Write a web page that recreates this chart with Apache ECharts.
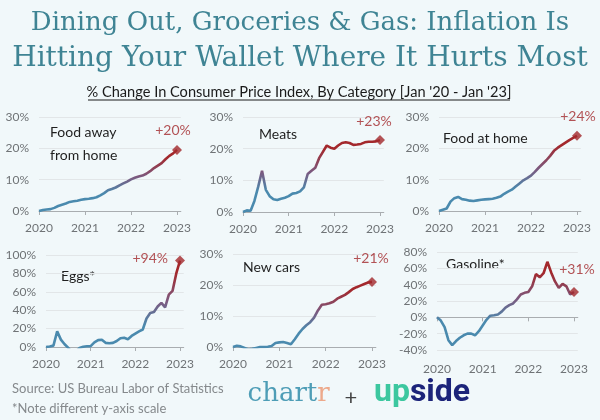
<!DOCTYPE html>
<html><head><meta charset="utf-8">
<script src="https://cdn.jsdelivr.net/npm/echarts@6/dist/echarts.min.js"></script>
<style>html,body{margin:0;padding:0;background:#f1f8fa}#c{width:600px;height:420px}</style>
</head><body><div id="c"></div>
<script>
// ---- DATA (monthly % change vs Jan 2020, Jan 2020 .. Jan 2023) ----
const yearLabels = ['2020', '2021', '2022', '2023'];
const panelNames = ['Food away\nfrom home', 'Meats', 'Food at home', 'Eggs*', 'New cars', 'Gasoline*'];
const endLabels = ['+20%', '+23%', '+24%', '+94%', '+21%', '+31%'];
const foodAway = [0,0.3,0.5,0.6,1.0,1.6,2.0,2.4,2.9,3.1,3.3,3.6,3.8,3.9,4.1,4.4,5.0,5.7,6.6,7.0,7.5,8.2,8.8,9.4,10.1,10.6,11.0,11.3,11.9,12.7,13.7,14.5,15.3,16.5,17.6,18.4,19.5];
const meats = [0,0.5,0.4,3.5,8,13,7,5,4,3.8,4.2,4.5,5,5.8,6,6.5,7.8,12,13,14,17,19,21,20.3,20,21,21.8,22,21.8,21.2,21.3,21.5,22,22.2,22.2,22.3,22.7];
const foodHome = [0,0.4,0.8,3.0,4.1,4.5,3.8,3.6,3.3,3.2,3.4,3.6,3.7,3.8,3.9,4.2,4.6,5.5,6.2,6.8,7.8,8.8,9.8,10.5,11.3,12.5,13.8,15,16.2,17.6,19.2,20.2,21,21.8,22.6,23.3,24];
const eggs = [0,0.5,1.5,17,8,3,-1,-6,-5,-1,0.3,0.8,1,5,7.5,7.8,4.5,4,4.5,6.5,9.5,10,8.5,12,14.5,17,19,31,37,38,44,48,43,57,61,80,94];
const newCars = [0,0.4,0.2,-0.3,-0.8,-0.6,-0.3,0,0,0.1,0.3,1.3,1.5,1.6,1.3,0.9,2.5,4.3,5.8,7,8,9.5,11.8,13.6,13.8,14.1,14.6,15.6,16.2,16.8,17.7,18.7,19.3,19.8,20.3,20.8,21];
const gasoline = [0,-4,-12,-28,-34,-29,-25,-22,-20,-20,-22,-17,-10,-3,2,2.5,3.5,7,12,15,17,22,28,30,31,38,53,49,54,68,55,44,36,41,38,28,31];
const seriesData = [foodAway, meats, foodHome, eggs, newCars, gasoline];
const yScales = [[0,30,10],[0,30,10],[0,30,10],[0,100,20],[0,30,10],[-40,80,20]];

// month categories (one spare month after Jan 2023 for right padding)
const months = [];
for (let y = 2020; y <= 2023; y++) for (let m = 1; m <= 12; m++) if (months.length < 38) months.push(y + '-' + m);

// ---- LAYOUT ----
const layout = [
  {left: 39, x23: 177, top: 117, bottom: 211, name: [50, 130], lab: ['top', [-4, -2]]},
  {left: 243, x23: 380, top: 117, bottom: 212, name: [259, 132], lab: ['top', [-6, -2]]},
  {left: 439, x23: 577, top: 117, bottom: 211, name: [443, 136], lab: ['top', [1, -2]]},
  {left: 46, x23: 180, top: 255, bottom: 347, name: [61, 274], lab: ['left', [-2, -2]]},
  {left: 233, x23: 372, top: 254, bottom: 347, name: [243, 265], lab: ['top', [-1, -6]]},
  {left: 437, x23: 574, top: 252, bottom: 350, name: [446, 262], lab: ['top', [3, -6]]}
];
const BLUE = '#4a8aae', PURPLE = '#7b5a80', RED = '#a3282c';
const BG = '#f1f8fa';
const F = 'Lato, "Noto Sans", sans-serif';

const chart = echarts.init(document.getElementById('c'));
const grid = [], xAxis = [], yAxis = [], series = [], graphic = [];
const yearFmt = v => yearLabels[yearLabels.indexOf(v.slice(0, 4))];
layout.forEach((L, i) => {
  const w = (L.x23 - L.left) * 37 / 36;
  grid.push({left: L.left, top: L.top, width: w, height: L.bottom - L.top, outerBoundsMode: 'none', containLabel: false});
  const isGas = i === 5;
  xAxis.push({
    type: 'category', gridIndex: i, data: months, boundaryGap: false,
    axisLine: {onZero: true, lineStyle: {color: '#a9adb0', width: 1}},
    axisTick: {show: true, interval: 11, length: 4, lineStyle: {color: '#a9adb0'}},
    axisLabel: {show: !isGas, interval: 11, margin: 11, color: '#6f7376', fontFamily: F, fontSize: 12, formatter: yearFmt},
    splitLine: {show: false}
  });
  const [mn, mx, iv] = yScales[i];
  yAxis.push({
    type: 'value', gridIndex: i, min: mn, max: mx, interval: iv,
    axisLine: {show: false}, axisTick: {show: false},
    axisLabel: {color: '#6f7376', fontFamily: F, fontSize: 12, margin: 10, formatter: v => v + '%'},
    splitLine: {lineStyle: {color: '#e2e6e8', width: 1}}
  });
  const vals = seriesData[i];
  series.push({
    type: 'line', xAxisIndex: i, yAxisIndex: i, data: vals, symbol: 'none', showSymbol: false,
    clip: true, animation: false, z: 2,
    lineStyle: {width: 2.6, color: new echarts.graphic.LinearGradient(0, 1, 0, 0, [
      {offset: 0, color: BLUE}, {offset: 0.3, color: BLUE}, {offset: 0.55, color: PURPLE}, {offset: 0.85, color: RED}, {offset: 1, color: RED}])}
  });
  const last = vals.length - 1;
  series.push({
    type: 'scatter', xAxisIndex: i, yAxisIndex: i, data: [[last, vals[last]]], symbol: 'diamond', symbolSize: 10,
    itemStyle: {color: RED}, animation: false, z: 3, clip: false,
    label: {show: true, position: L.lab[0], offset: L.lab[1], formatter: endLabels[i],
      color: RED, fontFamily: F, fontSize: 14}
  });
  graphic.push({type: 'text', left: L.name[0], top: L.name[1] - 9, style: {
    text: panelNames[i], fill: '#1f1f1f', font: '14px ' + F, lineHeight: 23}});
});
// gasoline: bottom axis labels
xAxis.push({
  type: 'category', gridIndex: 5, data: months, boundaryGap: false, position: 'bottom',
  axisLine: {show: false, onZero: false}, axisTick: {show: false},
  axisLabel: {interval: 11, margin: 13, color: '#6f7376', fontFamily: F, fontSize: 12, formatter: yearFmt}
});

const TITLE_F = '"DejaVu Serif", serif';
const thin = {stroke: BG, lineWidth: 1.3};
graphic.push(
  {type: 'text', x: 300, y: 23, style: Object.assign({text: 'Dining Out, Groceries & Gas: Inflation Is', fill: '#3f8494',
    font: '26px ' + TITLE_F, textAlign: 'center', textVerticalAlign: 'middle'}, thin)},
  {type: 'text', x: 300, y: 59, style: Object.assign({text: 'Hitting Your Wallet Where It Hurts Most', fill: '#3f8494',
    font: '28px ' + TITLE_F, textAlign: 'center', textVerticalAlign: 'middle'}, thin)},
  {type: 'text', x: 299, y: 92, style: {text: "% Change In Consumer Price Index, By Category [Jan '20 - Jan '23]",
    fill: '#1a1a1a', font: '14.6px ' + F, textAlign: 'center', textVerticalAlign: 'middle'}},
  {type: 'line', shape: {x1: 88, y1: 100, x2: 510, y2: 100}, style: {stroke: '#1a1a1a', lineWidth: 1}},
  {type: 'text', left: 12, top: 382, style: {text: 'Source: US Bureau Labor of Statistics', fill: '#85898c', font: '13px ' + F}},
  {type: 'text', left: 12, top: 402, style: {text: '*Note different y-axis scale', fill: '#85898c', font: '13px ' + F}},
  {type: 'text', left: 247, top: 381, style: {rich: {
      a: {fill: '#4e9db6', fontFamily: '"DejaVu Serif", serif', fontSize: 26, stroke: BG, lineWidth: 1.2},
      b: {fill: '#eda98b', fontFamily: '"DejaVu Serif", serif', fontSize: 26, stroke: BG, lineWidth: 1.2}},
    text: '{a|chart}{b|r}'}},
  {type: 'text', x: 351, y: 398, style: {text: '+', fill: '#444', font: '22px ' + F, textAlign: 'center', textVerticalAlign: 'middle'}},
  {type: 'text', left: 374, top: 377, style: {rich: {
      a: {fill: '#3cc79f', fontFamily: 'Roboto, sans-serif', fontWeight: 'bold', fontSize: 32},
      b: {fill: '#1c247a', fontFamily: 'Roboto, sans-serif', fontWeight: 'bold', fontSize: 32}},
    text: '{a|up}{b|side}'}}
);

chart.setOption({backgroundColor: BG, animation: false, grid, xAxis, yAxis, series, graphic});
</script></body></html>
